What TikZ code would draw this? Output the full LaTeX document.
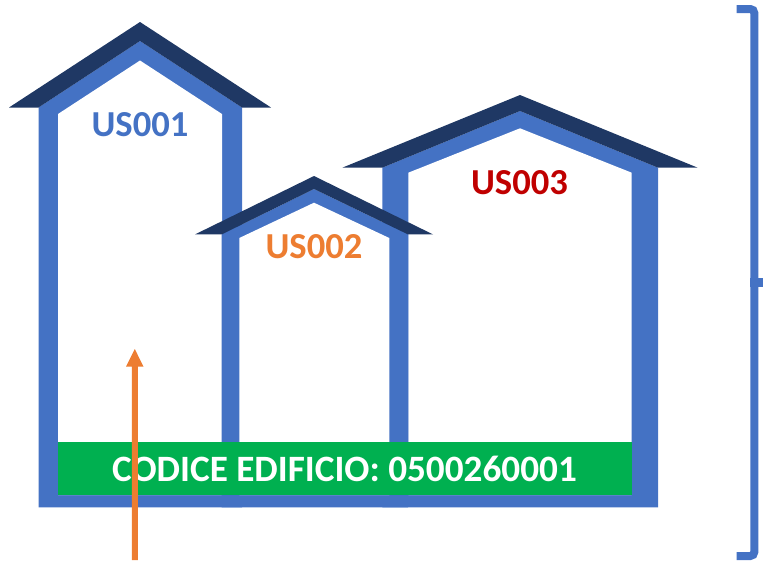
\documentclass[tikz,border=0pt]{standalone}
\usepackage{fontspec}
\setmainfont{Carlito}
\definecolor{wall}{HTML}{4472C4}
\definecolor{roof}{HTML}{1F3864}
\definecolor{acc}{HTML}{ED7D31}
\definecolor{redtxt}{HTML}{C00000}
\definecolor{band}{HTML}{00B050}
\tikzset{
  wallfill/.style={fill=wall,draw=none},
  roof shape/.style={fill=roof,draw=none},
  inside/.style={fill=white,draw=none},
  label text/.style={inner sep=0pt,anchor=base,font=\fontsize{36.6}{36.6}\selectfont\bfseries},
  code text/.style={inner sep=0pt,anchor=base,font=\fontsize{37.2}{37.2}\selectfont\bfseries},
  bracket/.style={draw=wall,line width=8pt}
}
\begin{document}
\begin{tikzpicture}[x=1pt,y=-1pt]
\useasboundingbox (0,0) rectangle (763,560);
% house 1
\fill[wallfill] (38.5,507.3) -- (38.5,107.5) -- (140,41) -- (242,107.5) -- (242,507.3) -- cycle;
\fill[inside] (58,495) -- (58,114) -- (140,60.5) -- (222,114) -- (222,495) -- cycle;
\fill[roof shape] (9,107.5) -- (140,22) -- (271,107.5) -- (242,107.5) -- (140,41) -- (38.5,107.5) -- cycle;
% house 3
\fill[wallfill] (382.3,507.3) -- (382.3,167.7) -- (520,111) -- (658,167.7) -- (658,507.3) -- cycle;
\fill[inside] (408.3,495) -- (408.3,172.7) -- (520,128.3) -- (631.7,172.7) -- (631.7,495) -- cycle;
\fill[roof shape] (342.3,167.7) -- (520,95) -- (697.7,167.7) -- (658,167.7) -- (520,111) -- (382.3,167.7) -- cycle;
% house 2
\fill[wallfill] (221.7,507.3) -- (221.7,234.4) -- (314,189) -- (408,234.4) -- (408,507.3) -- cycle;
\fill[inside] (239.3,495) -- (239.3,238) -- (314,202.7) -- (389.3,238) -- (389.3,495) -- cycle;
\fill[roof shape] (195,234.4) -- (314,176) -- (433,234.4) -- (408,234.4) -- (314,189) -- (221.7,234.4) -- cycle;
% band
\fill[band] (58,441.7) rectangle (631.7,495);
% labels
\node[label text,text=wall] (us1) at (140,136.7) {US001};
\node[label text,text=acc] (us2) at (314,258) {US002};
\node[label text,text=redtxt] (us3) at (519.5,194.3) {US003};
\node[code text,text=white] (code) at (344.5,481) {CODICE EDIFICIO: 0500260001};
% arrow
\coordinate (arrowtip) at (134.8,349);
\fill[acc] (131.8,560) -- (131.8,366.7) -- (126,366.7) -- (arrowtip) -- (143.5,366.7) -- (137.8,366.7) -- (137.8,560) -- cycle;
% bracket
\draw[bracket] (736.7,9) -- (750.3,9) arc[start angle=-90,end angle=0,radius=4] -- (754.3,552) arc[start angle=0,end angle=90,radius=4] -- (736.7,556);
\draw[wall,line width=9pt] (750,282.7) -- (763,282.7);
\end{tikzpicture}
\end{document}
